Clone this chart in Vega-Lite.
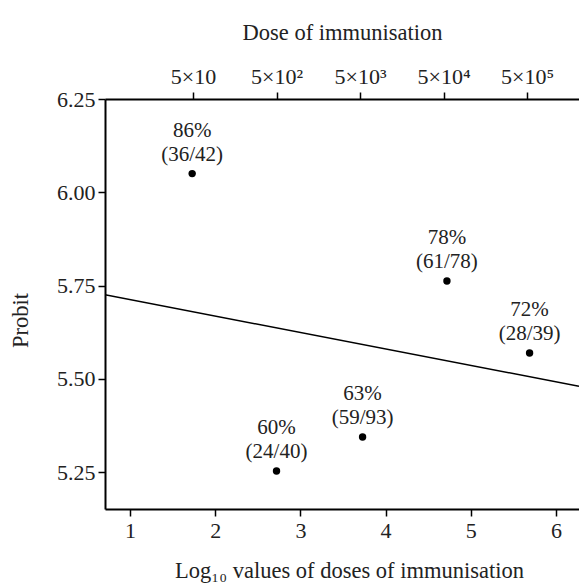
{
  "$schema": "https://vega.github.io/schema/vega-lite/v6.json",
  "width": 474,
  "height": 410,
  "autosize": {"type": "none"},
  "padding": {"left": 105, "top": 99, "right": 0, "bottom": 76},
  "background": "white",
  "config": {
    "view": {"stroke": null},
    "font": "Liberation Serif",
    "axis": {
      "grid": false,
      "domainColor": "black",
      "domainWidth": 2,
      "tickColor": "black",
      "tickWidth": 1.5,
      "tickSize": 7,
      "labelFont": "Liberation Serif",
      "labelFontSize": 22,
      "labelColor": "#222",
      "titleFont": "Liberation Serif",
      "titleFontSize": 22.5,
      "titleFontWeight": "normal",
      "titleColor": "#222"
    }
  },
  "datasets": {
    "pts": [
      {"logdose": 1.73, "probit": 6.05, "pct": "86%", "ratio": "(36/42)"},
      {"logdose": 2.72, "probit": 5.253, "pct": "60%", "ratio": "(24/40)"},
      {"logdose": 3.73, "probit": 5.344, "pct": "63%", "ratio": "(59/93)"},
      {"logdose": 4.72, "probit": 5.762, "pct": "78%", "ratio": "(61/78)"},
      {"logdose": 5.69, "probit": 5.569, "pct": "72%", "ratio": "(28/39)"}
    ],
    "fit": [
      {"logdose": 0.707, "probit": 5.725},
      {"logdose": 6.27, "probit": 5.48}
    ]
  },
  "layer": [
    {
      "data": {"name": "fit"},
      "mark": {"type": "line", "color": "black", "strokeWidth": 1.5, "clip": true},
      "encoding": {
        "x": {
          "field": "logdose", "type": "quantitative",
          "scale": {"domain": [0.707, 6.27], "nice": false, "zero": false},
          "axis": {
            "orient": "bottom",
            "values": [1, 2, 3, 4, 5, 6],
            "format": "d",
            "labelPadding": 4,
            "title": "Log₁₀  values of doses of immunisation",
            "titleY": 61,
            "titleBaseline": "middle",
            "titleX": 244,
            "titleAlign": "center"
          }
        },
        "y": {
          "field": "probit", "type": "quantitative",
          "scale": {"domain": [5.151, 6.25], "nice": false, "zero": false},
          "axis": {
            "values": [5.25, 5.5, 5.75, 6.0, 6.25],
            "format": ".2f",
            "labelPadding": 3,
            "title": "Probit",
            "titleAngle": -90,
            "titleX": -85,
            "titleY": 221,
            "titleAlign": "center",
            "titleBaseline": "middle"
          }
        }
      }
    },
    {
      "data": {"name": "pts"},
      "mark": {"type": "point", "filled": true, "color": "black", "opacity": 1, "size": 55},
      "encoding": {
        "x": {"field": "logdose", "type": "quantitative",
          "axis": {
            "orient": "top",
            "values": [1.74, 2.72, 3.7, 4.68, 5.66],
            "labelExpr": "datum.value < 2 ? '5×10' : datum.value < 3 ? '5×10²' : datum.value < 4 ? '5×10³' : datum.value < 5 ? '5×10⁴' : '5×10⁵'",
            "labelPadding": 4,
            "title": "Dose of immunisation",
            "titleY": -67,
            "titleX": 237,
            "titleAlign": "center",
            "titleBaseline": "middle"
          }
        },
        "y": {"field": "probit", "type": "quantitative"}
      }
    },
    {
      "data": {"name": "pts"},
      "mark": {"type": "text", "fontSize": 21, "color": "#222", "align": "center", "baseline": "middle", "dy": -43},
      "encoding": {
        "x": {"field": "logdose", "type": "quantitative", "axis": null},
        "y": {"field": "probit", "type": "quantitative"},
        "text": {"field": "pct"}
      }
    },
    {
      "data": {"name": "pts"},
      "mark": {"type": "text", "fontSize": 21, "color": "#222", "align": "center", "baseline": "middle", "dy": -19},
      "encoding": {
        "x": {"field": "logdose", "type": "quantitative", "axis": null},
        "y": {"field": "probit", "type": "quantitative"},
        "text": {"field": "ratio"}
      }
    }
  ],
  "resolve": {"axis": {"x": "independent"}}
}
